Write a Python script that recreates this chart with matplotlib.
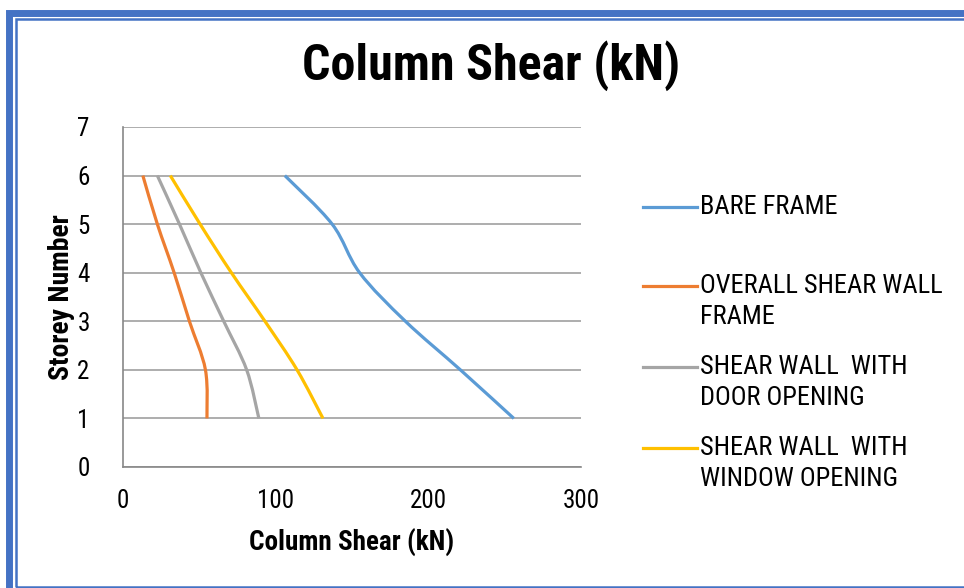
import numpy as np
import matplotlib
matplotlib.use("Agg")
import matplotlib.pyplot as plt
from matplotlib.path import Path
from matplotlib.patches import PathPatch, Rectangle
from matplotlib.lines import Line2D

storeys = [6, 5, 4, 3, 2, 1]
bare_frame = [106, 137, 155, 185, 221, 256]
overall_wall = [13, 22.5, 33.5, 43.5, 54, 55]
door_opening = [22.5, 37, 51, 66, 81, 89]
window_opening = [31, 50.5, 71, 93, 114, 131]

labels = ["BARE FRAME", "OVERALL SHEAR WALL\nFRAME",
          "SHEAR WALL  WITH\nDOOR OPENING", "SHEAR WALL  WITH\nWINDOW OPENING"]
colors = ["#5B9BD5", "#ED7D31", "#A5A5A5", "#FFC000"]
series = [bare_frame, overall_wall, door_opening, window_opening]

plt.rcParams["font.family"] = ["Roboto Condensed", "DejaVu Sans"]


def smooth_path(xs, ys):
    # excel style smoothed line -> cubic bezier segments
    p = np.column_stack([xs, ys]).astype(float)
    n = len(p)
    verts = [p[0]]
    codes = [Path.MOVETO]
    for i in range(n - 1):
        p0 = p[i - 1] if i > 0 else p[i]
        p3 = p[i + 2] if i + 2 < n else p[i + 1]
        c1 = p[i] + (p[i + 1] - p0) / 6
        c2 = p[i + 1] - (p3 - p[i]) / 6
        verts += [c1, c2, p[i + 1]]
        codes += [Path.CURVE4] * 3
    return Path(verts, codes)


W, H = 964, 588
fig = plt.figure(figsize=(W / 100, H / 100), dpi=100)
ax = fig.add_axes([123 / W, 121 / H, 458 / W, 340 / H])

for vals, c in zip(series, colors):
    ax.add_patch(PathPatch(smooth_path(vals, storeys), facecolor="none",
                           edgecolor=c, lw=2.3, capstyle="butt"))

ax.set_xlim(0, 300)
ax.set_ylim(0, 7)
ax.set_xticks([0, 100, 200, 300])
ax.set_yticks(range(8))
ax.grid(axis="y", color="#A0A0A0", lw=1.2)
ax.set_axisbelow(True)
for s in ["top", "right"]:
    ax.spines[s].set_visible(False)
for s in ["left", "bottom"]:
    ax.spines[s].set_color("#888888")
    ax.spines[s].set_linewidth(1.2)
ax.tick_params(length=0, labelsize=18, pad=16)
ax.tick_params(axis="y", pad=24)

fig.text(352 / W, 1 - 543 / H, "Column Shear (kN)", fontsize=19.5,
         fontweight="bold", ha="center", va="center")
fig.text(62 / W, 1 - 297 / H, "Storey Number", fontsize=20, rotation=90,
         fontweight="bold", ha="center", va="center")
fig.text(491 / W, 1 - 66 / H, "Column Shear (kN)", fontsize=36,
         fontweight="bold", ha="center", va="center")

# legend drawn by hand so the line sits next to the first text row
leg_y = [207, 286, 367, 448]
for y, lab, c in zip(leg_y, labels, colors):
    fy = 1 - y / H
    fig.add_artist(Line2D([643 / W, 697 / W], [fy, fy], color=c, lw=2.3))
    fig.text(700 / W, fy + 12 / H, lab, fontsize=19, ha="left", va="top",
             linespacing=1.38)

# double blue frame, partly cut by the image edge
fig.add_artist(Rectangle((8.5 / W, -10 / H), 975 / W, (H + 10 - 13) / H,
                         transform=fig.transFigure, fill=False,
                         edgecolor="#4472C4", lw=5))
fig.add_artist(Rectangle((16 / W, 1.5 / H), 975 / W, (H - 19 - 1.5) / H,
                         transform=fig.transFigure, fill=False,
                         edgecolor="#4472C4", lw=1.8))

fig.savefig("out.png", dpi=100)
